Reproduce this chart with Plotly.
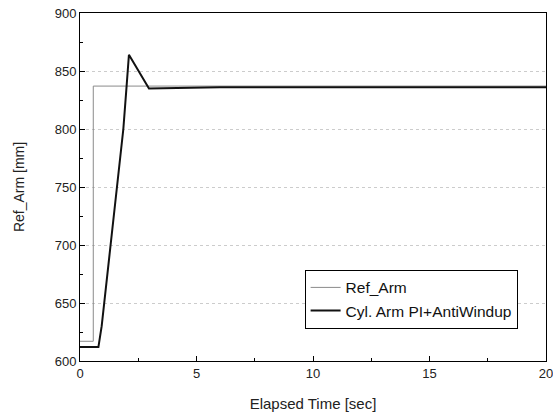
import plotly.graph_objects as go

ref_t = [0, 0.57, 0.57, 20]
ref_v = [617, 617, 837, 837]

cyl_t = [0, 0.79, 0.93, 1.31, 1.86, 2.0, 2.1, 2.96, 6, 20]
cyl_v = [612, 612, 630, 700, 800, 837, 864, 835, 836, 836]

x_ticks = [0, 5, 10, 15, 20]
y_ticks = [600, 650, 700, 750, 800, 850, 900]

font = "Arial, Liberation Sans, sans-serif"

fig = go.Figure()
fig.add_trace(go.Scatter(x=ref_t, y=ref_v, mode="lines", name="Ref_Arm",
                         line=dict(color="#8a8a8a", width=1)))
fig.add_trace(go.Scatter(x=cyl_t, y=cyl_v, mode="lines", name="Cyl. Arm PI+AntiWindup",
                         line=dict(color="#111111", width=2)))

axis_common = dict(showline=True, linecolor="black", linewidth=1, mirror=True,
                   ticks="inside", ticklen=5, tickcolor="black", automargin=False,
                   ticklabeloverflow="allow",
                   zeroline=False, tickfont=dict(family=font, size=13, color="#222"))

fig.update_layout(
    width=553, height=416,
    margin=dict(l=80, r=7, t=13, b=55),
    paper_bgcolor="white", plot_bgcolor="white",
    font=dict(family=font, size=13, color="#222"),
    xaxis=dict(range=[0, 20], tickvals=x_ticks, showgrid=False,
               minor=dict(dtick=2.5, ticks="inside", ticklen=3, tickcolor="black", showgrid=False),
               title=dict(text="Elapsed Time [sec]", font=dict(family=font, size=15), standoff=18),
               **axis_common),
    yaxis=dict(range=[600, 900], tickvals=y_ticks,
               showgrid=True, gridcolor="#cccccc", griddash="dot", gridwidth=1,
               minor=dict(dtick=25, ticks="inside", ticklen=3, tickcolor="black", showgrid=False),
               title=dict(text="Ref_Arm [mm]", font=dict(family=font, size=14), standoff=26),
               **axis_common),
    legend=dict(x=0.482, y=0.262, xanchor="left", yanchor="top",
                bgcolor="white", bordercolor="black", borderwidth=1,
                font=dict(family=font, size=15.5, color="#111"),
                tracegroupgap=0, itemwidth=30),
    showlegend=True,
)

fig.write_html("out.html", config={"displayModeBar": False},
               post_script="document.body.style.margin='0';document.body.style.overflow='hidden';")
